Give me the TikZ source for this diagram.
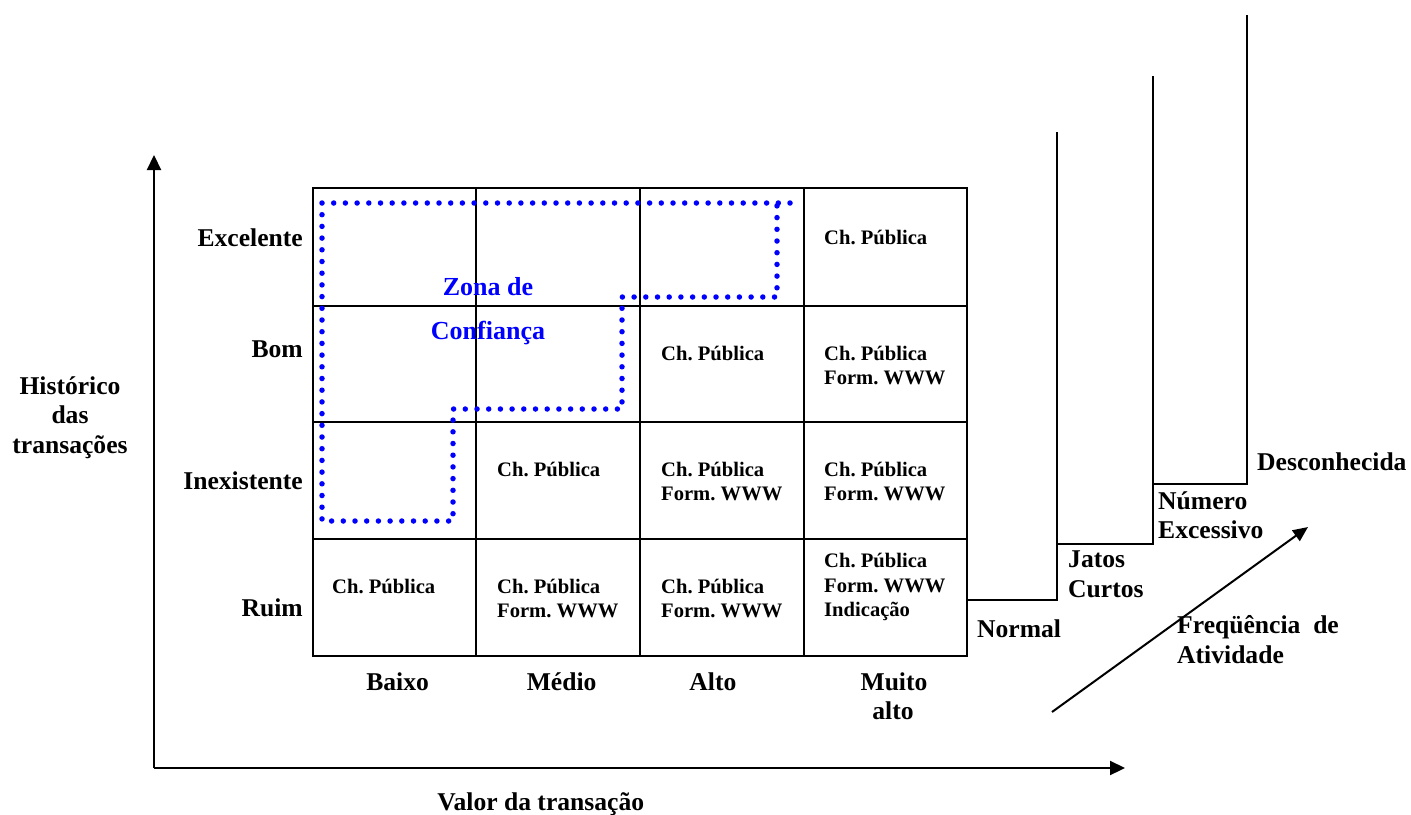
\documentclass[tikz,border=0pt]{standalone}
\usepackage{fontspec}
\setmainfont{Liberation Serif}
\usetikzlibrary{arrows.meta}
\frenchspacing
\begin{document}
\begin{tikzpicture}[x=1pt,y=-1pt,
  lbl/.style={inner sep=0pt,font=\fontsize{25.6}{29.5}\selectfont\bfseries},
  cell/.style={inner sep=0pt,anchor=base west,font=\fontsize{20.6}{24}\selectfont\bfseries},
  zone/.style={inner sep=0pt,anchor=base,text=blue,font=\fontsize{26}{30}\selectfont\bfseries},
  gridline/.style={line width=2.2pt},
  axis/.style={line width=2.2pt,-{Triangle[length=15pt,width=14pt]}},
  stair/.style={line width=2pt},
  trust/.style={blue,line width=5.5pt,line cap=round,dash pattern=on 0pt off 11.7pt}]
\useasboundingbox (0,0) rectangle (1411,814);
% grid
\draw[gridline] (313,188) rectangle (967,656);
\foreach \x in {476,640,804} \draw[gridline] (\x,188) -- (\x,656);
\foreach \y in {306,422,539} \draw[gridline] (313,\y) -- (967,\y);
% axes
\coordinate (O) at (154,768);
\coordinate (Ytop) at (154,155);
\coordinate (Xend) at (1125,768);
\draw[axis] (O) -- (Ytop);
\draw[axis] (O) -- (Xend);
% staircase
\draw[stair] (967,600) -- (1057,600) -- (1057,132);
\draw[stair] (1057,544) -- (1153,544) -- (1153,76);
\draw[stair] (1153,484) -- (1247,484) -- (1247,15);
% frequency arrow
\coordinate (Fa) at (1052,712);
\coordinate (Fb) at (1308,527);
\draw[line width=2pt,-{Triangle[length=15pt,width=13pt]}] (Fa) -- (Fb);
% trust zone
\draw[trust] (790,203) -- (322,203) -- (322,521) -- (453,521) -- (453,409) -- (622,409) -- (622,297) -- (777,297) -- (777,203);
\node[zone] (z1) at (488,295) {Zona de};
\node[zone] (z2) at (488,339.5) {Confiança};
% row labels
\node[lbl,anchor=base east] (r1) at (303,246) {Excelente};
\node[lbl,anchor=base east] (r2) at (303,357) {Bom};
\node[lbl,anchor=base east] (r3) at (303,489) {Inexistente};
\node[lbl,anchor=base east] (r4) at (303,616) {Ruim};
\node[lbl,anchor=base] (h1) at (70,394) {Histórico};
\node[lbl,anchor=base] (h2) at (70,423.5) {das};
\node[lbl,anchor=base] (h3) at (70,453) {transações};
% column labels
\node[lbl,anchor=base] (c1) at (397.6,690) {Baixo};
\node[lbl,anchor=base] (c2) at (561.6,690) {Médio};
\node[lbl,anchor=base] (c3) at (712.9,690) {Alto};
\node[lbl,anchor=base] (c4a) at (894,690) {Muito};
\node[lbl,anchor=base] (c4b) at (893,719.5) {alto};
\node[lbl,anchor=base] (vx) at (540.8,810) {Valor da transação};
% staircase labels
\node[lbl,anchor=base west] (s1) at (977,637) {Normal};
\node[lbl,anchor=base west] (s2a) at (1068,567) {Jatos};
\node[lbl,anchor=base west] (s2b) at (1068,597) {Curtos};
\node[lbl,anchor=base west] (s3a) at (1158,509) {Número};
\node[lbl,anchor=base west] (s3b) at (1158,538.5) {Excessivo};
\node[lbl,anchor=base west] (s4) at (1257,470) {Desconhecida};
\node[lbl,anchor=base west] (f1) at (1177,633) {Freqüência\ \ de};
\node[lbl,anchor=base west] (f2) at (1177,663) {Atividade};
% cell contents
\node[cell] (e4) at (824,244) {Ch. Pública};
\node[cell] (b3) at (661,360) {Ch. Pública};
\node[cell] (b4a) at (824,360) {Ch. Pública};
\node[cell] (b4b) at (824,384) {Form. WWW};
\node[cell] (i2) at (497,476) {Ch. Pública};
\node[cell] (i3a) at (661,476) {Ch. Pública};
\node[cell] (i3b) at (661,500) {Form. WWW};
\node[cell] (i4a) at (824,476) {Ch. Pública};
\node[cell] (i4b) at (824,500) {Form. WWW};
\node[cell] (u1) at (332,593) {Ch. Pública};
\node[cell] (u2a) at (497,593) {Ch. Pública};
\node[cell] (u2b) at (497,617) {Form. WWW};
\node[cell] (u3a) at (661,593) {Ch. Pública};
\node[cell] (u3b) at (661,617) {Form. WWW};
\node[cell] (u4a) at (824,567.5) {Ch. Pública};
\node[cell] (u4b) at (824,592) {Form. WWW};
\node[cell] (u4c) at (824,616) {Indicação};
\end{tikzpicture}
\end{document}
